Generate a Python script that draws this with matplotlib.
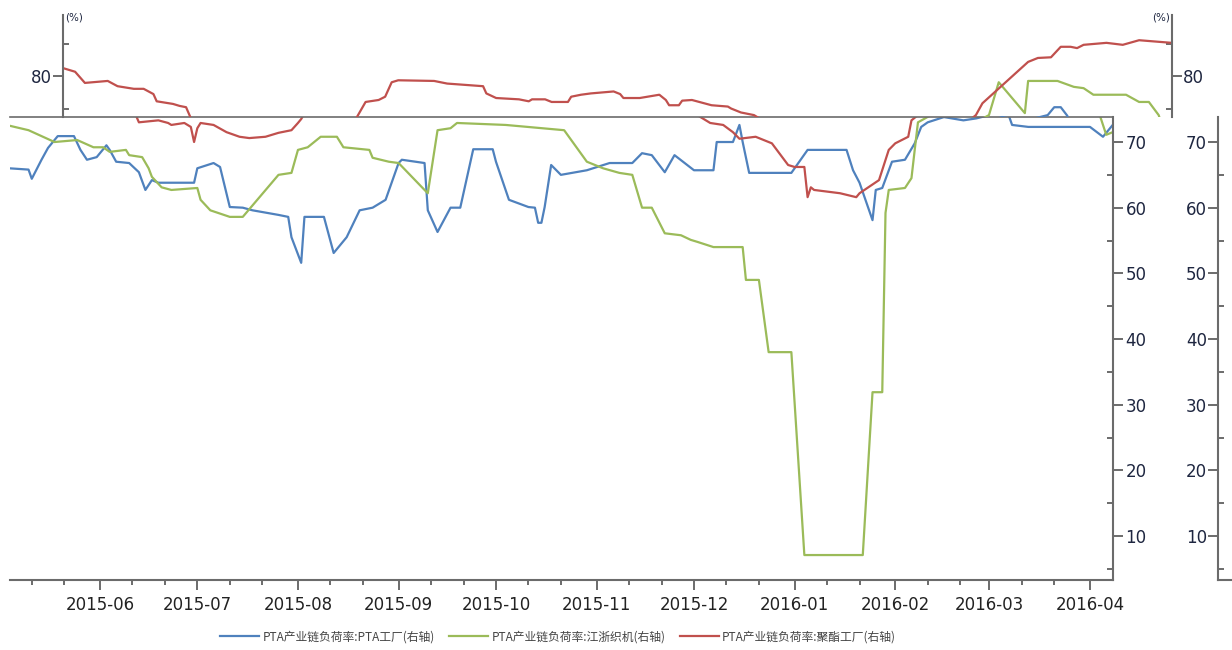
import matplotlib
matplotlib.use("Agg")
import matplotlib.pyplot as plt
import matplotlib.dates as mdates
from matplotlib.ticker import MultipleLocator
import pandas as pd

# ---------------- data ----------------
pta_dates = ['2015-05-04', '2015-05-10', '2015-05-11', '2015-05-14', '2015-05-16', '2015-05-19', '2015-05-24',
             '2015-05-26', '2015-05-28', '2015-05-31', '2015-06-03', '2015-06-04', '2015-06-06', '2015-06-10',
             '2015-06-13', '2015-06-15', '2015-06-17', '2015-06-19', '2015-06-30', '2015-07-01', '2015-07-06',
             '2015-07-08', '2015-07-11', '2015-07-15', '2015-07-18', '2015-07-26', '2015-07-29', '2015-07-30',
             '2015-08-02', '2015-08-03', '2015-08-09', '2015-08-12', '2015-08-16', '2015-08-20', '2015-08-24',
             '2015-08-28', '2015-09-01', '2015-09-02', '2015-09-09', '2015-09-10', '2015-09-13', '2015-09-17',
             '2015-09-20', '2015-09-24', '2015-09-30', '2015-10-01', '2015-10-05', '2015-10-11', '2015-10-13',
             '2015-10-14', '2015-10-15', '2015-10-16', '2015-10-18', '2015-10-21', '2015-10-29', '2015-11-05',
             '2015-11-12', '2015-11-15', '2015-11-18', '2015-11-22', '2015-11-25', '2015-12-01', '2015-12-07',
             '2015-12-08', '2015-12-13', '2015-12-15', '2015-12-16', '2015-12-18', '2015-12-31', '2016-01-05',
             '2016-01-17', '2016-01-19', '2016-01-21', '2016-01-25', '2016-01-26', '2016-01-28', '2016-01-31',
             '2016-02-04', '2016-02-07', '2016-02-09', '2016-02-11', '2016-02-16', '2016-02-22', '2016-02-26',
             '2016-03-01', '2016-03-03', '2016-03-05', '2016-03-07', '2016-03-08', '2016-03-13', '2016-04-01',
             '2016-04-05', '2016-04-08']
pta_values = [66.0, 65.8, 64.4, 67.3, 69.1, 70.9, 70.9,
              68.8, 67.3, 67.7, 69.5, 68.8, 67.0, 66.8,
              65.4, 62.7, 64.2, 63.8, 63.8, 66.0, 66.8,
              66.2, 60.1, 60.0, 59.6, 58.9, 58.6, 55.5,
              51.6, 58.6, 58.6, 53.1, 55.5, 59.6, 60.0,
              61.2, 66.8, 67.3, 66.8, 59.6, 56.3, 60.0,
              60.0, 68.9, 68.9, 67.0, 61.2, 60.1, 60.0,
              57.7, 57.7, 60.1, 66.5, 65.0, 65.7, 66.8,
              66.8, 68.3, 68.0, 65.4, 68.0, 65.7, 65.7,
              70.0, 70.0, 72.6, 70.0, 65.3, 65.3, 68.8,
              68.8, 65.7, 63.8, 58.1, 62.7, 63.0, 67.0,
              67.3, 69.8, 72.3, 73.0, 73.8, 73.3, 73.6,
              74.1, 75.3, 75.3, 74.0, 72.6, 72.3, 72.3,
              70.8, 72.6]

loom_dates = ['2015-05-04', '2015-05-10', '2015-05-18', '2015-05-25', '2015-05-30', '2015-06-02', '2015-06-04',
              '2015-06-09', '2015-06-10', '2015-06-14', '2015-06-16', '2015-06-17', '2015-06-20', '2015-06-23',
              '2015-07-01', '2015-07-02', '2015-07-05', '2015-07-11', '2015-07-15', '2015-07-26', '2015-07-30',
              '2015-08-01', '2015-08-04', '2015-08-08', '2015-08-13', '2015-08-15', '2015-08-23', '2015-08-24',
              '2015-08-29', '2015-09-01', '2015-09-09', '2015-09-10', '2015-09-13', '2015-09-17', '2015-09-19',
              '2015-10-04', '2015-10-22', '2015-10-29', '2015-11-03', '2015-11-08', '2015-11-12', '2015-11-15',
              '2015-11-18', '2015-11-22', '2015-11-27', '2015-11-30', '2015-12-02', '2015-12-07', '2015-12-16',
              '2015-12-17', '2015-12-21', '2015-12-24', '2015-12-31', '2016-01-04', '2016-01-22', '2016-01-25',
              '2016-01-28', '2016-01-29', '2016-01-30', '2016-02-04', '2016-02-06', '2016-02-07', '2016-02-08',
              '2016-02-12', '2016-02-15', '2016-02-23', '2016-02-24', '2016-03-04', '2016-03-09', '2016-03-12',
              '2016-03-15', '2016-03-25', '2016-03-29', '2016-04-01', '2016-04-04', '2016-04-06', '2016-04-08']
loom_values = [72.5, 71.8, 70.0, 70.3, 69.2, 69.2, 68.5,
               68.8, 68.0, 67.7, 66.0, 64.7, 63.1, 62.7,
               63.0, 61.2, 59.6, 58.6, 58.6, 65.0, 65.3,
               68.8, 69.2, 70.8, 70.8, 69.2, 68.8, 67.6,
               67.0, 66.8, 62.7, 62.2, 71.8, 72.1, 72.9,
               72.6, 71.8, 67.0, 66.0, 65.3, 65.0, 60.0,
               60.0, 56.1, 55.8, 55.1, 54.8, 54.0, 54.0,
               49.0, 49.0, 38.0, 38.0, 7.1, 7.1, 31.9,
               31.9, 59.2, 62.7, 63.0, 64.5, 68.8, 73.0,
               74.1, 79.1, 74.4, 79.3, 79.3, 78.4, 78.2,
               77.2, 77.2, 76.1, 76.1, 74.1, 71.1, 71.5]

poly_dates = ['2015-05-04', '2015-05-08', '2015-05-11', '2015-05-18', '2015-05-21', '2015-05-26', '2015-05-29',
              '2015-06-01', '2015-06-02', '2015-06-07', '2015-06-09', '2015-06-11', '2015-06-13', '2015-06-19',
              '2015-06-22', '2015-06-23', '2015-06-27', '2015-06-29', '2015-06-30', '2015-07-01', '2015-07-02',
              '2015-07-06', '2015-07-10', '2015-07-14', '2015-07-17', '2015-07-22', '2015-07-26', '2015-07-30',
              '2015-08-01', '2015-08-02', '2015-08-05', '2015-08-09', '2015-08-11', '2015-08-13', '2015-08-15',
              '2015-08-26', '2015-08-30', '2015-09-10', '2015-09-11', '2015-09-14', '2015-09-21', '2015-09-24',
              '2015-09-25', '2015-09-29', '2015-10-01', '2015-10-06', '2015-10-07', '2015-10-10', '2015-10-13',
              '2015-10-20', '2015-10-22', '2015-10-23', '2015-10-28', '2015-11-03', '2015-11-05', '2015-11-06',
              '2015-11-09', '2015-11-10', '2015-11-13', '2015-11-16', '2015-11-19', '2015-11-24', '2015-11-25',
              '2015-11-28', '2015-12-02', '2015-12-06', '2015-12-10', '2015-12-13', '2015-12-15', '2015-12-20',
              '2015-12-25', '2015-12-30', '2016-01-01', '2016-01-04', '2016-01-05', '2016-01-06', '2016-01-07',
              '2016-01-15', '2016-01-20', '2016-01-21', '2016-01-27', '2016-01-30', '2016-02-01', '2016-02-05',
              '2016-02-06', '2016-02-08', '2016-02-10', '2016-02-24', '2016-02-27', '2016-03-02', '2016-03-05',
              '2016-03-08', '2016-03-10', '2016-03-12', '2016-03-19', '2016-03-24', '2016-03-29', '2016-04-08']
poly_values = [81.3, 80.7, 79.0, 79.3, 78.5, 78.1, 78.1,
               77.3, 76.2, 75.8, 75.5, 75.3, 73.0, 73.3,
               72.9, 72.6, 72.9, 72.3, 70.0, 72.1, 72.9,
               72.6, 71.5, 70.8, 70.6, 70.8, 71.4, 71.8,
               72.9, 73.5, 76.1, 76.4, 76.9, 79.1, 79.4,
               79.3, 78.9, 78.5, 77.4, 76.7, 76.5, 76.2,
               76.5, 76.5, 76.1, 76.1, 76.9, 77.2, 77.4,
               77.7, 77.3, 76.7, 76.7, 77.2, 76.4, 75.6,
               75.6, 76.3, 76.4, 76.0, 75.6, 75.4, 75.1,
               74.5, 74.1, 72.9, 72.6, 71.5, 70.5, 70.8,
               69.8, 66.5, 66.2, 66.2, 61.6, 63.1, 62.7,
               62.2, 61.6, 62.2, 64.2, 68.8, 69.8, 70.8,
               73.3, 74.1, 75.9, 82.2, 82.8, 82.9, 84.5,
               84.5, 84.3, 84.8, 85.1, 84.8, 85.5, 85.1]

series_labels = ['PTA产业链负荷率:PTA工厂(右轴)',
                 'PTA产业链负荷率:江浙织机(右轴)',
                 'PTA产业链负荷率:聚酯工厂(右轴)']
series_colors = ['#4f81bd', '#9bbb59', '#c0504d']

# ---------------- figure ----------------
plt.rcParams['font.family'] = ['DejaVu Sans', 'Noto Sans CJK SC']
W, H = 1232, 650
fig = plt.figure(figsize=(W / 100, H / 100), dpi=100)

AX_COL = '#6b6b6b'
LBL_COL = '#1e2640'
Y_LOW = (3.3, 73.81)
Y_UP = (73.81, 89.34)
X_LIM = (pd.Timestamp('2015-05-04 07:00'), pd.Timestamp('2016-04-08 02:00'))

ax_low = fig.add_axes([10 / W, 1 - 580 / H, 1103 / W, 463 / H])
ax_up = fig.add_axes([63 / W, 1 - 117 / H, 1109 / W, 102 / H])
ax_r2 = fig.add_axes([1218 / W, 1 - 580 / H, 14 / W, 463 / H])

series = [(pta_dates, pta_values), (loom_dates, loom_values), (poly_dates, poly_values)]
handles = []
for (d, v), lab, col in zip(series, series_labels, series_colors):
    dd = pd.to_datetime(d)
    h, = ax_low.plot(dd, v, color=col, lw=1.6, label=lab, solid_joinstyle='round')
    ax_up.plot(dd, v, color=col, lw=1.6, solid_joinstyle='round')
    handles.append(h)

# lower axes
ax_low.set_xlim(*X_LIM)
ax_low.set_ylim(*Y_LOW)
ax_low.spines['left'].set_visible(False)
for s in ['top', 'right', 'bottom']:
    ax_low.spines[s].set_color(AX_COL)
    ax_low.spines[s].set_linewidth(1.5)
ax_low.spines['top'].set_linewidth(1.2)
ax_low.yaxis.set_ticks_position('right')
ax_low.yaxis.set_label_position('right')
ax_low.yaxis.set_major_locator(MultipleLocator(10))
ax_low.yaxis.set_minor_locator(MultipleLocator(5))
ax_low.tick_params(axis='y', which='major', direction='out', length=7, width=1.4,
                   color=AX_COL, labelsize=12, labelcolor=LBL_COL, pad=2)
ax_low.tick_params(axis='y', which='minor', direction='in', length=4.5, width=1.4, color=AX_COL)
ax_low.xaxis.set_major_locator(mdates.MonthLocator())
ax_low.xaxis.set_major_formatter(mdates.DateFormatter('%Y-%m'))
ax_low.xaxis.set_minor_locator(mdates.DayLocator(bymonthday=[11, 21]))
ax_low.tick_params(axis='x', which='major', direction='out', length=7.5, width=1.4,
                   color=AX_COL, labelsize=12, labelcolor='#222222', pad=4)
ax_low.tick_params(axis='x', which='minor', direction='out', length=3.5, width=1.4, color=AX_COL)

# upper axes (top slice of the value range)
ax_up.set_xlim(*X_LIM)
ax_up.set_ylim(*Y_UP)
ax_up.patch.set_alpha(0)
for s in ['top', 'bottom']:
    ax_up.spines[s].set_visible(False)
for s in ['left', 'right']:
    ax_up.spines[s].set_color(AX_COL)
    ax_up.spines[s].set_linewidth(1.5)
ax_up.set_xticks([])
ax_up.yaxis.set_major_locator(MultipleLocator(10))
ax_up.yaxis.set_minor_locator(MultipleLocator(5))
ax_up.tick_params(axis='y', which='major', left=True, right=True, labelleft=True, labelright=True,
                  direction='out', length=7, width=1.4, color=AX_COL, labelsize=12,
                  labelcolor=LBL_COL, pad=1)
ax_up.tick_params(axis='y', which='minor', left=True, right=True, direction='in',
                  length=4.5, width=1.4, color=AX_COL)
fig.text(65 / W, 1 - 17 / H, '(%)', fontsize=7.5, color=LBL_COL, ha='left', va='center')
fig.text(1170 / W, 1 - 17 / H, '(%)', fontsize=7.5, color=LBL_COL, ha='right', va='center')

# second right-hand scale
ax_r2.set_ylim(*Y_LOW)
ax_r2.patch.set_alpha(0)
ax_r2.set_xticks([])
for s in ['top', 'right']:
    ax_r2.spines[s].set_visible(False)
for s in ['left', 'bottom']:
    ax_r2.spines[s].set_color(AX_COL)
    ax_r2.spines[s].set_linewidth(1.5)
ax_r2.yaxis.set_major_locator(MultipleLocator(10))
ax_r2.yaxis.set_minor_locator(MultipleLocator(5))
ax_r2.tick_params(axis='y', which='major', direction='out', length=7, width=1.4,
                  color=AX_COL, labelsize=12, labelcolor=LBL_COL, pad=1)
ax_r2.tick_params(axis='y', which='minor', direction='in', length=4.5, width=1.4, color=AX_COL)

# legend
fig.legend(handles=handles, loc='center', bbox_to_anchor=(558 / W, 1 - 637 / H), ncol=3,
           frameon=False, prop={'family': ['Noto Sans CJK SC', 'DejaVu Sans'], 'size': 8.5},
           labelcolor='#444444', handlelength=3.3, handletextpad=0.3, columnspacing=1.2)

fig.savefig('out.png', dpi=100)
